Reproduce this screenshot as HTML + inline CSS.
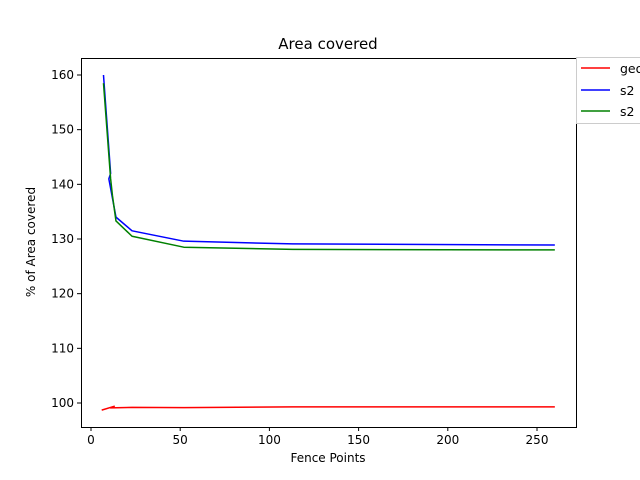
<!DOCTYPE html>
<html><head><meta charset="utf-8"><style>
body{margin:0;background:#fff}
svg{display:block;font-family:"DejaVu Sans","Liberation Sans",sans-serif}
</style></head><body>
<svg id="chart" width="640" height="480" viewBox="0 0 640 480">
<rect width="640" height="480" fill="#fff"/>
<text x="328" y="49" font-size="15" text-anchor="middle">Area covered</text>
<g id="plot"></g>
<g id="axes"></g>
<text x="328" y="462" font-size="12" text-anchor="middle">Fence Points</text>
<text transform="translate(35,242) rotate(-90)" font-size="12" text-anchor="middle">% of Area covered</text>
<g>
<rect x="576.5" y="57.5" width="80" height="66" fill="#fff" stroke="#ccc"/>
<line x1="581" y1="68" x2="610" y2="68" stroke="#ff0000" stroke-width="1.5"/>
<text x="620" y="73" font-size="12.5">geohash</text>
<line x1="581" y1="90" x2="610" y2="90" stroke="#0000ff" stroke-width="1.5"/>
<text x="620" y="95" font-size="12.5">s2</text>
<line x1="581" y1="111" x2="610" y2="111" stroke="#008000" stroke-width="1.5"/>
<text x="620" y="116" font-size="12.5">s2</text>
</g>
</svg>
<script>
const xTicks=[0,50,100,150,200,250];
const yTicks=[100,110,120,130,140,150,160];
const redX=[6,13,11,23,52,113,260];
const redY=[98.7,99.4,99.1,99.2,99.15,99.3,99.3];
const blueX=[7,11,10,14,23,52,113,260];
const blueY=[160,142,141,134,131.5,129.6,129.1,128.9];
const greenX=[7,11,12,14,23,52,113,260];
const greenY=[158.5,141,138,133.3,130.5,128.5,128.1,128];
const L=81,R=576,T=58,B=427;
const sx=v=>91+(v-0)*(537-91)/250;
const sy=v=>403-(v-100)*(403-75)/60;
const NS="http://www.w3.org/2000/svg";
const plot=document.getElementById('plot'),axes=document.getElementById('axes');
function mk(tag,attrs,parent){const e=document.createElementNS(NS,tag);for(const k in attrs)e.setAttribute(k,attrs[k]);parent.appendChild(e);return e;}
function series(xs,ys,color,name){
 const p=mk('polyline',{points:xs.map((x,i)=>sx(x)+','+sy(ys[i])).join(' '),fill:'none',stroke:color,'stroke-width':1.5,'stroke-linejoin':'round'},plot);
 
 
}
series(redX,redY,'#ff0000','geo-line');
series(blueX,blueY,'#0000ff','s2-line-blue');
series(greenX,greenY,'#008000','s2-line-green');
const frame=mk('rect',{x:L+0.5,y:T+0.5,width:R-L,height:B-T,fill:'none',stroke:'#000','stroke-width':1},axes);


xTicks.forEach(t=>{
 const x=sx(t);
 mk('line',{x1:x,y1:B,x2:x,y2:B+4,stroke:'#000'},axes);
 const tx=mk('text',{x:x,y:B+17,'font-size':12,'text-anchor':'middle'},axes);tx.textContent=t;
 
 
});
yTicks.forEach(t=>{
 const y=sy(t);
 mk('line',{x1:L-4,y1:y,x2:L,y2:y,stroke:'#000'},axes);
 const tx=mk('text',{x:L-7,y:y+4,'font-size':12,'text-anchor':'end'},axes);tx.textContent=t;
 
 
});
</script>
</body></html>
